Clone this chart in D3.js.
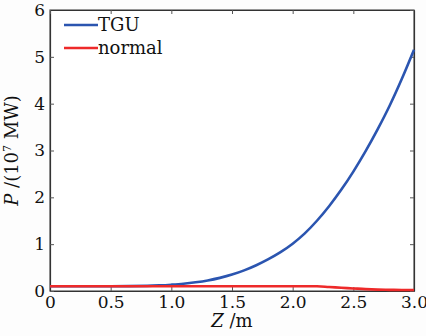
<!DOCTYPE html>
<html>
<head>
<meta charset="utf-8">
<script src="https://cdn.jsdelivr.net/npm/d3@7"></script>
<style>
  body { margin: 0; background: #fdfdfd; }
  svg { display: block; }
</style>
</head>
<body>
<div id="chart"></div>
<script>
// values
const zValues = [0, 0.5, 0.8, 0.9, 1.0, 1.1, 1.2, 1.3, 1.4, 1.5, 1.6, 1.7, 1.8, 1.9, 2.0, 2.1, 2.2, 2.3, 2.4, 2.5, 2.6, 2.7, 2.8, 2.9, 3.0];
const tguValues = [0.1, 0.1, 0.11, 0.12, 0.135, 0.155, 0.185, 0.225, 0.28, 0.35, 0.44, 0.55, 0.68, 0.83, 1.01, 1.23, 1.5, 1.81, 2.16, 2.55, 2.98, 3.45, 3.96, 4.53, 5.15];
const normalValues = [0.1, 0.1, 0.1, 0.1, 0.1, 0.1, 0.1, 0.1, 0.1, 0.1, 0.1, 0.1, 0.1, 0.1, 0.1, 0.1, 0.1, 0.085, 0.07, 0.055, 0.04, 0.03, 0.025, 0.02, 0.02];
const seriesNames = ["TGU", "normal"];
const xTicks = [0, 0.5, 1.0, 1.5, 2.0, 2.5, 3.0];
const yTicks = [0, 1, 2, 3, 4, 5, 6];

const font = "'DejaVu Serif', serif";
const margin = {top: 10, right: 12, bottom: 45, left: 50};
const width = 426 - margin.left - margin.right;
const height = 336 - margin.top - margin.bottom;

const svg = d3.select("#chart")
	.append("svg")
	.attr("width", 426)
	.attr("height", 336)
	.append("g")
	.attr("transform", "translate(" + margin.left + "," + margin.top + ")");

const x = d3.scaleLinear().domain([0, 3]).range([0, width]);
const y = d3.scaleLinear().domain([0, 6]).range([height, 0]);

// frame
svg.append("rect")
	.attr("width", width)
	.attr("height", height)
	.attr("fill", "#fff")
	.attr("stroke", "#555")
	.attr("stroke-width", 1.2);

// inward ticks on all four sides
svg.append("g")
	.attr("transform", "translate(0," + height + ")")
	.call(d3.axisBottom(x).tickValues(xTicks).tickSizeInner(-4).tickSizeOuter(0).tickPadding(5)
		.tickFormat(d => d === 0 ? "0" : d3.format(".1f")(d)));
svg.append("g")
	.call(d3.axisLeft(y).tickValues(yTicks).tickSizeInner(-4).tickSizeOuter(0).tickPadding(5)
		.tickFormat(d3.format("d")));
svg.append("g")
	.call(d3.axisTop(x).tickValues(xTicks).tickSizeInner(-4).tickSizeOuter(0).tickFormat(""));
svg.append("g")
	.attr("transform", "translate(" + width + ",0)")
	.call(d3.axisRight(y).tickValues(yTicks).tickSizeInner(-4).tickSizeOuter(0).tickFormat(""));

svg.selectAll(".domain").attr("stroke", "#333").attr("stroke-width", 1.2);
svg.selectAll(".tick line").attr("stroke", "#555");
svg.selectAll(".tick text")
	.attr("font-family", font)
	.attr("font-size", 17)
	.attr("fill", "#111");

const line = d3.line()
	.x(d => x(d[0]))
	.y(d => y(d[1]))
	.curve(d3.curveMonotoneX);

svg.append("path")
	.datum(zValues.map((z, i) => [z, tguValues[i]]))
	.attr("d", line)
	.attr("fill", "none")
	.attr("stroke", "#2b55b0")
	.attr("stroke-width", 2.6);

svg.append("path")
	.datum(zValues.map((z, i) => [z, normalValues[i]]))
	.attr("d", line)
	.attr("fill", "none")
	.attr("stroke", "#ee2a2a")
	.attr("stroke-width", 2.6);

// legend
const colors = ["#2b55b0", "#ee2a2a"];
const legend = svg.append("g").attr("transform", "translate(14,15)");
seriesNames.forEach((name, i) => {
	legend.append("line")
		.attr("x1", 0).attr("x2", 34)
		.attr("y1", i * 23).attr("y2", i * 23)
		.attr("stroke", colors[i])
		.attr("stroke-width", 2.6);
	legend.append("text")
		.attr("x", 34)
		.attr("y", i * 23)
		.attr("dy", "0.35em")
		.attr("font-family", font)
		.attr("font-size", 18)
		.attr("fill", "#111")
		.text(name);
});

// axis titles
svg.append("text")
	.attr("x", width / 2)
	.attr("y", height + 36)
	.attr("text-anchor", "middle")
	.attr("font-family", font)
	.attr("font-size", 18)
	.attr("fill", "#111")
	.html('<tspan font-style="italic">Z</tspan> /m');

svg.append("text")
	.attr("transform", "rotate(-90)")
	.attr("x", -height / 2)
	.attr("y", -32)
	.attr("text-anchor", "middle")
	.attr("font-family", font)
	.attr("font-size", 18)
	.attr("fill", "#111")
	.html('<tspan font-style="italic">P</tspan> /(10<tspan dy="-7" font-size="11">7</tspan><tspan dy="7"> MW)</tspan>');
</script>
</body>
</html>
